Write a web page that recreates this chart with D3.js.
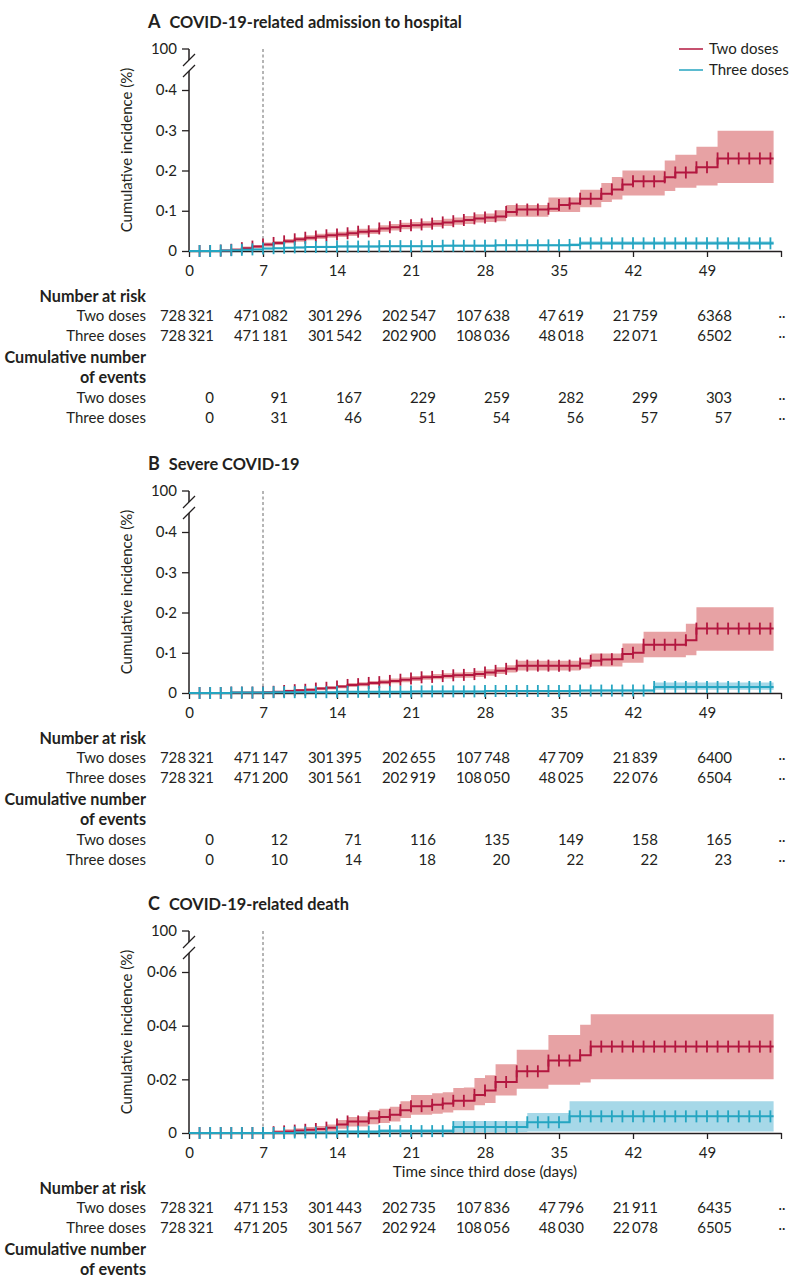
<!DOCTYPE html>
<html><head><meta charset="utf-8">
<script src="https://cdn.jsdelivr.net/npm/d3@7"></script>
<style>
body{margin:0;background:#fff}
svg{display:block}
text{font-family:Lato,'Liberation Sans',sans-serif;fill:#231f20}
</style>
</head><body><div id="chart"></div>
<script>
// ---------- DATA ----------
const days = [0,1,2,3,4,5,6,7,8,9,10,11,12,13,14,15,16,17,18,19,20,21,22,23,24,25,26,27,28,29,30,31,32,33,34,35,36,37,38,39,40,41,42,43,44,45,46,47,48,49,50,51,52,53,54,55];
const followUpEnd = 55.3;
const xTicks = [0,7,14,21,28,35,42,49];
const xAxisEnd = 56;
const doseDay = 7;
const yTicksA = [0,0.1,0.2,0.3,0.4];
const yTicksB = [0,0.1,0.2,0.3,0.4];
const yTicksC = [0,0.02,0.04,0.06];
const yBreakLabel = "100";
const seriesNames = ["Two doses","Three doses"];

// A: COVID-19-related admission to hospital (cumulative incidence, %)
const hospTwo   = [0,0,0,0.001,0.003,0.007,0.011,0.016,0.020,0.024,0.029,0.033,0.036,0.039,0.041,0.044,0.048,0.049,0.056,0.059,0.062,0.064,0.066,0.068,0.071,0.074,0.077,0.081,0.083,0.086,0.097,0.103,0.103,0.103,0.105,0.114,0.118,0.130,0.130,0.142,0.153,0.165,0.173,0.173,0.173,0.183,0.195,0.195,0.208,0.208,0.230,0.230,0.230,0.230,0.230,0.230];
const hospTwoHi = [0,0,0,0.003,0.006,0.011,0.015,0.021,0.025,0.030,0.035,0.039,0.043,0.046,0.048,0.051,0.055,0.056,0.064,0.067,0.070,0.072,0.074,0.077,0.080,0.083,0.087,0.091,0.093,0.101,0.114,0.114,0.114,0.114,0.133,0.133,0.133,0.152,0.152,0.169,0.184,0.200,0.200,0.200,0.200,0.225,0.239,0.239,0.259,0.259,0.299,0.299,0.299,0.299,0.299,0.299];
const hospTwoLo = [0,0,0,0,0.001,0.004,0.007,0.011,0.015,0.019,0.023,0.027,0.030,0.033,0.035,0.037,0.041,0.042,0.048,0.051,0.054,0.056,0.058,0.060,0.062,0.065,0.067,0.071,0.072,0.074,0.085,0.085,0.085,0.085,0.097,0.097,0.097,0.109,0.109,0.122,0.128,0.138,0.138,0.138,0.138,0.149,0.157,0.157,0.163,0.163,0.169,0.169,0.169,0.169,0.169,0.169];
const hospThree   = [0,0,0,0.001,0.002,0.003,0.004,0.006,0.007,0.008,0.009,0.010,0.010,0.010,0.011,0.011,0.011,0.011,0.012,0.012,0.012,0.012,0.012,0.012,0.013,0.013,0.013,0.013,0.013,0.014,0.014,0.014,0.014,0.014,0.014,0.014,0.015,0.019,0.019,0.019,0.019,0.019,0.019,0.019,0.019,0.019,0.019,0.019,0.019,0.019,0.019,0.019,0.019,0.019,0.019,0.019];
const hospThreeHi = [0,0,0,0.002,0.003,0.005,0.006,0.008,0.009,0.010,0.011,0.012,0.013,0.013,0.014,0.014,0.014,0.014,0.015,0.015,0.015,0.015,0.015,0.015,0.016,0.016,0.016,0.016,0.016,0.017,0.017,0.017,0.017,0.017,0.017,0.017,0.019,0.024,0.024,0.024,0.024,0.024,0.024,0.024,0.024,0.024,0.024,0.024,0.024,0.024,0.024,0.024,0.024,0.024,0.024,0.024];
const hospThreeLo = [0,0,0,0,0.001,0.002,0.003,0.004,0.005,0.006,0.007,0.008,0.008,0.008,0.009,0.009,0.009,0.009,0.010,0.010,0.010,0.010,0.010,0.010,0.011,0.011,0.011,0.011,0.011,0.012,0.012,0.012,0.012,0.012,0.012,0.012,0.012,0.015,0.015,0.015,0.015,0.015,0.015,0.015,0.015,0.015,0.015,0.015,0.015,0.015,0.015,0.015,0.015,0.015,0.015,0.015];

// B: Severe COVID-19
const sevTwo   = [0,0,0,0,0.001,0.001,0.001,0.002,0.003,0.005,0.007,0.008,0.011,0.013,0.016,0.020,0.022,0.025,0.027,0.030,0.033,0.036,0.039,0.040,0.042,0.044,0.045,0.047,0.051,0.055,0.060,0.068,0.068,0.068,0.068,0.068,0.068,0.073,0.080,0.083,0.084,0.097,0.100,0.120,0.120,0.120,0.120,0.131,0.160,0.160,0.160,0.160,0.160,0.160,0.160,0.160];
const sevTwoHi = [0,0,0,0,0.002,0.002,0.002,0.004,0.005,0.008,0.010,0.011,0.015,0.017,0.020,0.025,0.027,0.030,0.033,0.036,0.039,0.042,0.045,0.047,0.049,0.051,0.052,0.055,0.059,0.064,0.069,0.080,0.080,0.080,0.080,0.080,0.080,0.084,0.098,0.098,0.098,0.123,0.123,0.152,0.152,0.152,0.152,0.172,0.213,0.213,0.213,0.213,0.213,0.213,0.213,0.213];
const sevTwoLo = [0,0,0,0,0,0,0,0.001,0.001,0.003,0.004,0.005,0.007,0.009,0.012,0.015,0.017,0.020,0.022,0.024,0.027,0.030,0.033,0.034,0.036,0.037,0.038,0.040,0.043,0.047,0.051,0.056,0.056,0.056,0.056,0.056,0.056,0.061,0.066,0.066,0.066,0.075,0.075,0.089,0.089,0.089,0.089,0.094,0.105,0.105,0.105,0.105,0.105,0.105,0.105,0.105];
const sevThree   = [0,0,0,0,0.001,0.001,0.001,0.001,0.002,0.002,0.002,0.002,0.002,0.002,0.003,0.003,0.003,0.003,0.003,0.003,0.003,0.004,0.004,0.004,0.004,0.004,0.004,0.004,0.005,0.005,0.005,0.005,0.005,0.005,0.005,0.005,0.005,0.006,0.006,0.006,0.006,0.006,0.006,0.006,0.015,0.015,0.015,0.015,0.015,0.015,0.015,0.015,0.015,0.015,0.015,0.015];
const sevThreeHi = [0,0,0,0,0.002,0.002,0.002,0.002,0.003,0.003,0.003,0.003,0.003,0.003,0.005,0.005,0.005,0.005,0.005,0.005,0.005,0.006,0.006,0.006,0.006,0.006,0.006,0.006,0.007,0.007,0.007,0.007,0.007,0.007,0.007,0.007,0.007,0.009,0.009,0.009,0.009,0.009,0.009,0.009,0.026,0.026,0.026,0.026,0.026,0.026,0.026,0.026,0.026,0.026,0.026,0.026];
const sevThreeLo = [0,0,0,0,0,0,0,0,0.001,0.001,0.001,0.001,0.001,0.001,0.001,0.001,0.001,0.001,0.001,0.001,0.001,0.002,0.002,0.002,0.002,0.002,0.002,0.002,0.003,0.003,0.003,0.003,0.003,0.003,0.003,0.003,0.003,0.003,0.003,0.003,0.003,0.003,0.003,0.003,0.008,0.008,0.008,0.008,0.008,0.008,0.008,0.008,0.008,0.008,0.008,0.008];

// C: COVID-19-related death
const deathTwo   = [0,0,0,0,0,0,0,0,0.0003,0.0006,0.0009,0.0012,0.0015,0.0020,0.0032,0.0043,0.0043,0.0055,0.0060,0.0068,0.0085,0.0100,0.0100,0.0105,0.0110,0.0120,0.0120,0.0142,0.0158,0.0190,0.0190,0.0230,0.0230,0.0230,0.0270,0.0270,0.0270,0.0290,0.0322,0.0322,0.0322,0.0322,0.0322,0.0322,0.0322,0.0322,0.0322,0.0322,0.0322,0.0322,0.0322,0.0322,0.0322,0.0322,0.0322,0.0322];
const deathTwoHi = [0,0,0,0,0,0,0,0,0.0010,0.0014,0.0018,0.0022,0.0026,0.0032,0.0048,0.0060,0.0062,0.0085,0.0090,0.0098,0.0118,0.0142,0.0142,0.0148,0.0152,0.0168,0.0170,0.0205,0.0215,0.0256,0.0256,0.0310,0.0310,0.0310,0.0365,0.0365,0.0365,0.0403,0.0443,0.0443,0.0443,0.0443,0.0443,0.0443,0.0443,0.0443,0.0443,0.0443,0.0443,0.0443,0.0443,0.0443,0.0443,0.0443,0.0443,0.0443];
const deathTwoLo = [0,0,0,0,0,0,0,0,0,0.0001,0.0002,0.0004,0.0005,0.0008,0.0016,0.0024,0.0024,0.0033,0.0037,0.0043,0.0056,0.0068,0.0068,0.0072,0.0076,0.0085,0.0085,0.0103,0.0112,0.0140,0.0140,0.0165,0.0165,0.0165,0.0180,0.0180,0.0180,0.0188,0.0200,0.0200,0.0200,0.0200,0.0200,0.0200,0.0200,0.0200,0.0200,0.0200,0.0200,0.0200,0.0200,0.0200,0.0200,0.0200,0.0200,0.0200];
const deathThree   = [0,0,0,0,0,0,0,0,0,0,0.0002,0.0002,0.0002,0.0002,0.0005,0.0005,0.0005,0.0005,0.0007,0.0007,0.0007,0.0007,0.0007,0.0007,0.0007,0.0022,0.0022,0.0022,0.0022,0.0022,0.0022,0.0022,0.0040,0.0040,0.0040,0.0040,0.0062,0.0062,0.0062,0.0062,0.0062,0.0062,0.0062,0.0062,0.0062,0.0062,0.0062,0.0062,0.0062,0.0062,0.0062,0.0062,0.0062,0.0062,0.0062,0.0062];
const deathThreeHi = [0.0001,0.0001,0.0001,0.0001,0.0001,0.0001,0.0001,0.0001,0.0001,0.0001,0.0006,0.0006,0.0006,0.0006,0.0011,0.0011,0.0011,0.0011,0.0015,0.0015,0.0015,0.0015,0.0015,0.0015,0.0015,0.0045,0.0045,0.0045,0.0045,0.0045,0.0045,0.0045,0.0075,0.0075,0.0075,0.0075,0.0118,0.0118,0.0118,0.0118,0.0118,0.0118,0.0118,0.0118,0.0118,0.0118,0.0118,0.0118,0.0118,0.0118,0.0118,0.0118,0.0118,0.0118,0.0118,0.0118];
const deathThreeLo = [0,0,0,0,0,0,0,0,0,0,0,0,0,0,0.0001,0.0001,0.0001,0.0001,0.0001,0.0001,0.0001,0.0001,0.0001,0.0001,0.0001,0.0004,0.0004,0.0004,0.0004,0.0004,0.0004,0.0004,0.0006,0.0006,0.0006,0.0006,0.0006,0.0006,0.0006,0.0006,0.0006,0.0006,0.0006,0.0006,0.0006,0.0006,0.0006,0.0006,0.0006,0.0006,0.0006,0.0006,0.0006,0.0006,0.0006,0.0006];

// Tables
const riskTwoA   = [728321,471082,301296,202547,107638,47619,21759,6368];
const riskThreeA = [728321,471181,301542,202900,108036,48018,22071,6502];
const eventsTwoA   = [0,91,167,229,259,282,299,303];
const eventsThreeA = [0,31,46,51,54,56,57,57];
const riskTwoB   = [728321,471147,301395,202655,107748,47709,21839,6400];
const riskThreeB = [728321,471200,301561,202919,108050,48025,22076,6504];
const eventsTwoB   = [0,12,71,116,135,149,158,165];
const eventsThreeB = [0,10,14,18,20,22,22,23];
const riskTwoC   = [728321,471153,301443,202735,107836,47796,21911,6435];
const riskThreeC = [728321,471205,301567,202924,108056,48030,22078,6505];
const eventsTwoC = null, eventsThreeC = null; // not shown within the frame
const missing = "··";

// ---------- STYLE ----------
const redLine = "#b3173f", redBand = "#e7a2a4";
const blueLine = "#25a5c1", blueBand = "#a6d8e8";
const ink = "#231f20";
const FONT = "Lato,'Liberation Sans',sans-serif";

const panels = [
  {letter:"A", title:"COVID-19-related admission to hospital", off:0, yMax:0.4, yTicks:yTicksA,
   two:[hospTwo,hospTwoLo,hospTwoHi], three:[hospThree,hospThreeLo,hospThreeHi],
   risk:[riskTwoA,riskThreeA], events:[eventsTwoA,eventsThreeA], tableTop:296, legend:true, xTitle:false},
  {letter:"B", title:"Severe COVID-19", off:442, yMax:0.4, yTicks:yTicksB,
   two:[sevTwo,sevTwoLo,sevTwoHi], three:[sevThree,sevThreeLo,sevThreeHi],
   risk:[riskTwoB,riskThreeB], events:[eventsTwoB,eventsThreeB], tableTop:296, legend:false, xTitle:false},
  {letter:"C", title:"COVID-19-related death", off:882, yMax:0.06, yTicks:yTicksC,
   two:[deathTwo,deathTwoLo,deathTwoHi], three:[deathThree,deathThreeLo,deathThreeHi],
   risk:[riskTwoC,riskThreeC], events:[eventsTwoC,eventsThreeC], tableTop:306, legend:false, xTitle:true}
];

const svg = d3.select("#chart").append("svg").attr("width",800).attr("height",1280);
const x = d3.scaleLinear().domain([0,xAxisEnd]).range([189,781]);
const fmtTick = v => String(v).replace(".", "·");
const fmtNum = n => n >= 10000 ? String(n).replace(/(\d)(?=(\d{3})+$)/g, "$1\u2009") : String(n);

panels.forEach(p => {
  const g = svg.append("g");
  const o = p.off;
  const y = d3.scaleLinear().domain([0,p.yMax]).range([251+o, 90+o]);

  // title
  const t = g.append("text").attr("x",148).attr("y",28+o);
  t.append("tspan").text(p.letter).attr("font-size",18).attr("font-weight",700);
  t.append("tspan").text(p.title).attr("dx",9).attr("font-size",16.4).attr("font-weight",700);

  // y label
  g.append("text").attr("transform",`translate(126,${150+o}) rotate(-90)`)
    .attr("text-anchor","middle").attr("dominant-baseline","central")
    .attr("font-size",15).text("Cumulative incidence (%)");

  // dashed line at day 7
  g.append("line").attr("x1",x(doseDay)).attr("x2",x(doseDay)).attr("y1",49+o).attr("y2",251+o)
    .attr("stroke","#444").attr("stroke-width",0.8).attr("stroke-dasharray","3,2.5");

  // bands
  const mk = (arr) => days.map((d,i)=>[d, arr[0][i], arr[1][i], arr[2][i]])
      .concat([[followUpEnd, arr[0][arr[0].length-1], arr[1][arr[1].length-1], arr[2][arr[2].length-1]]]);
  const area = d3.area().x(d=>x(d[0])).y0(d=>y(d[2])).y1(d=>y(d[3])).curve(d3.curveStepAfter);
  const line = d3.line().x(d=>x(d[0])).y(d=>y(d[1])).curve(d3.curveStepAfter);
  const dTwo = mk(p.two), dThree = mk(p.three);
  g.append("path").attr("d",area(dTwo)).attr("fill",redBand);
  g.append("path").attr("d",area(dThree)).attr("fill",blueBand);

  // axes
  const yAxis = d3.axisLeft(y).tickValues(p.yTicks).tickSize(7).tickPadding(5).tickFormat(fmtTick);
  const ya = g.append("g").attr("transform","translate(189,0)").call(yAxis);
  ya.select(".domain").remove();
  ya.selectAll("text").attr("font-size",15).attr("fill",ink).style("font-family",FONT);
  ya.selectAll("line").attr("stroke",ink).attr("stroke-width",1.3);
  // break axis
  g.append("line").attr("x1",189).attr("x2",189).attr("y1",71+o).attr("y2",251+o).attr("stroke",ink).attr("stroke-width",1.5);
  g.append("line").attr("x1",189).attr("x2",189).attr("y1",49+o).attr("y2",60+o).attr("stroke",ink).attr("stroke-width",1.5);
  g.append("line").attr("x1",182).attr("x2",189).attr("y1",49+o).attr("y2",49+o).attr("stroke",ink).attr("stroke-width",1.3);
  g.append("line").attr("x1",183).attr("x2",195).attr("y1",66+o).attr("y2",54+o).attr("stroke",ink).attr("stroke-width",1.3);
  g.append("line").attr("x1",183).attr("x2",195).attr("y1",77+o).attr("y2",65+o).attr("stroke",ink).attr("stroke-width",1.3);
  g.append("text").attr("x",177).attr("y",49+o).attr("dy","0.35em").attr("text-anchor","end")
    .attr("font-size",15).text(yBreakLabel);

  const xAxis = d3.axisBottom(x).tickValues(xTicks.concat([xAxisEnd])).tickSize(6).tickSizeOuter(0).tickPadding(8)
    .tickFormat(d => d===xAxisEnd ? "" : d);
  const xa = g.append("g").attr("transform",`translate(0,${251+o})`).call(xAxis);
  xa.select(".domain").attr("stroke",ink).attr("stroke-width",1.6);
  xa.selectAll("line").attr("stroke",ink).attr("stroke-width",1.3);
  xa.selectAll("text").attr("font-size",15).attr("fill",ink).style("font-family",FONT);

  // lines + censor marks
  [[dTwo,redLine],[dThree,blueLine]].forEach(([dd,col]) => {
    g.append("path").attr("d",line(dd)).attr("fill","none").attr("stroke",col).attr("stroke-width",2);
    g.append("g").selectAll("line").data(dd.filter(d => d[0]>=1 && d[0]<=days[days.length-1])).join("line")
      .attr("x1",d=>x(d[0])).attr("x2",d=>x(d[0]))
      .attr("y1",d=>y(d[1])-6).attr("y2",d=>y(d[1])+6)
      .attr("stroke",col).attr("stroke-width",1.8);
  });

  // legend
  if (p.legend) {
    [[seriesNames[0],redLine,49],[seriesNames[1],blueLine,70]].forEach(([n,c,yy]) => {
      g.append("line").attr("x1",679).attr("x2",703).attr("y1",yy+o).attr("y2",yy+o).attr("stroke",c).attr("stroke-width",1.5);
      g.append("text").attr("x",709).attr("y",yy+o).attr("dy","0.35em").attr("font-size",15).text(n);
    });
  }

  if (p.xTitle) {
    g.append("text").attr("x",485).attr("y",290+o).attr("dy","0.35em").attr("text-anchor","middle")
      .attr("font-size",15.3).text("Time since third dose (days)");
  }

  // table
  const tt = p.tableTop + o;
  const rowY = [0,20,40,61,81,102,122].map(v => v + tt);
  const lab = (txt,yy,bold) => g.append("text").attr("x",146).attr("y",yy).attr("dy","0.35em")
      .attr("text-anchor","end").attr("font-size",bold?16.2:15).attr("font-weight",bold?700:400).text(txt);
  const row = (vals,yy) => {
    vals.forEach((v,i) => g.append("text").attr("x",x(xTicks[i])+25).attr("y",yy).attr("dy","0.35em")
      .attr("text-anchor","end").attr("font-size",15).text(fmtNum(v)));
    g.append("text").attr("x",x(xAxisEnd)+1).attr("y",yy).attr("dy","0.35em")
      .attr("text-anchor","middle").attr("font-size",13).text(missing);
  };
  lab("Number at risk",rowY[0],true);
  lab(seriesNames[0],rowY[1]); row(p.risk[0],rowY[1]);
  lab(seriesNames[1],rowY[2]); row(p.risk[1],rowY[2]);
  lab("Cumulative number",rowY[3],true);
  lab("of events",rowY[4],true);
  if (p.events[0]) {
    lab(seriesNames[0],rowY[5]); row(p.events[0],rowY[5]);
    lab(seriesNames[1],rowY[6]); row(p.events[1],rowY[6]);
  }
});
</script></body></html>
